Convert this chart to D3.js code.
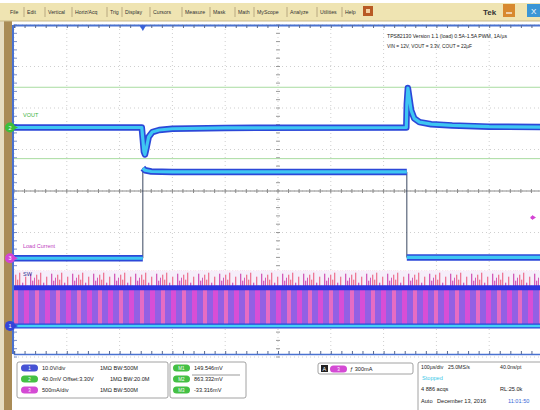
<!DOCTYPE html>
<html>
<head>
<meta charset="utf-8">
<title>Load step</title>
<script src="https://cdn.jsdelivr.net/npm/d3@7/dist/d3.min.js"></script>
<style>
  body { margin: 0; background: #fff; }
  svg { display: block; font-family: "Liberation Sans", Arial, sans-serif; }
</style>
</head>
<body>
<div id="scope"></div>
<script>
// time in us, levels in divisions from screen centre
var voutT = [-500, -258, -256, -254, -252, -249, -245, -238, -225, -200, -100, 243, 244, 246, 248, 252, 258, 268, 290, 330, 400, 500];
var voutV = [1.53, 1.53, 1.25, 0.95, 0.88, 1.05, 1.30, 1.42, 1.47, 1.50, 1.52, 1.53, 2.10, 2.48, 2.30, 1.95, 1.75, 1.66, 1.61, 1.58, 1.55, 1.54];
var ioutT = [-500, -256, -256, -252, -240, -200, 244, 244, 500];
var ioutV = [-1.62, -1.62, 0.55, 0.50, 0.47, 0.46, 0.46, -1.60, -1.60];
var swT = [-500, 500];
var swHigh = [-2.33, -2.33];
var swLow = [-3.25, -3.25];
var swRing = [-1.92, -1.92];
var cursorV = [2.50, 0.78];
var triggerT = -256, triggerLevel = -0.64;
var chanMarks = [{ name: "2", v: 1.53, c: "#3cc03c" }, { name: "3", v: -1.62, c: "#d444d4" }, { name: "1", v: -3.25, c: "#3344d8" }];
var traceLabels = [{ t: "VOUT", v: 1.78, c: "#3cb43c" }, { t: "Load Current", v: -1.38, c: "#c040c0" }, { t: "SW", v: -2.05, c: "#303090" }];
var menuItems = ["File", "Edit", "Vertical", "Horiz/Acq", "Trig", "Display", "Cursors", "Measure", "Mask", "Math", "MyScope", "Analyze", "Utilities", "Help"];
var menuX = [10, 27, 48, 75, 110, 125, 153, 185, 213, 238, 257, 290, 320, 345];
var chanScale = ["10.0V/div", "40.0mV Offset:3.30V", "500mA/div"];
var chanBw = ["1MΩ  BW:500M", "1MΩ  BW:20.0M", "1MΩ  BW:500M"];
var measValues = ["149.546mV", "863.332mV", "-33.316mV"];
var noteLines = ["TPS82130 Version 1.1 (load) 0.5A-1.5A PWM, 1A/µs", "VIN = 12V, VOUT = 3.3V, COUT = 22µF"];

var W = 540, H = 410;
var svg = d3.select("#scope").append("svg").attr("width", W).attr("height", H);

var xs = d3.scaleLinear().domain([-500, 500]).range([14, 542]);
var ys = d3.scaleLinear().domain([-4, 4]).range([357, 25]);

// side strip and menu bar
svg.append("rect").attr("x", 0).attr("y", 0).attr("width", W).attr("height", H).attr("fill", "#fff");
svg.append("rect").attr("x", 0).attr("y", 21).attr("width", 4).attr("height", H - 21).attr("fill", "#e6dcc0");
svg.append("rect").attr("x", 4).attr("y", 21).attr("width", 8).attr("height", H - 21).attr("fill", "#a98b56");
svg.append("rect").attr("x", 0).attr("y", 3).attr("width", W).attr("height", 18).attr("fill", "#efe4b2");
svg.append("line").attr("x1", 0).attr("x2", W).attr("y1", 21).attr("y2", 21).attr("stroke", "#c9b98a");

svg.append("g").selectAll("text").data(menuItems).enter().append("text")
  .attr("x", function (d, i) { return menuX[i]; }).attr("y", 14)
  .attr("font-size", 5.2).attr("fill", "#333").text(function (d) { return d; });
svg.append("g").selectAll("line").data(menuX.slice(1)).enter().append("line")
  .attr("x1", function (d) { return d - 3; }).attr("x2", function (d) { return d - 3; })
  .attr("y1", 7).attr("y2", 17).attr("stroke", "#b8a880");
svg.append("rect").attr("x", 363).attr("y", 6).attr("width", 10).attr("height", 10).attr("fill", "#b85a24");
svg.append("rect").attr("x", 366).attr("y", 9).attr("width", 4).attr("height", 4).attr("fill", "#f3d0a0");
svg.append("text").attr("x", 483).attr("y", 15).attr("font-size", 8).attr("font-weight", "bold").attr("fill", "#333").text("Tek");
svg.append("rect").attr("x", 503).attr("y", 4).attr("width", 12).attr("height", 13).attr("fill", "#d8892f");
svg.append("line").attr("x1", 506).attr("x2", 512).attr("y1", 13).attr("y2", 13).attr("stroke", "#fff").attr("stroke-width", 1.2);
svg.append("rect").attr("x", 527).attr("y", 4).attr("width", 13).attr("height", 13).attr("fill", "#3a96d6");
svg.append("text").attr("x", 531).attr("y", 14).attr("font-size", 8).attr("fill", "#fff").text("X");

// graticule
var grid = svg.append("g");
d3.range(-5, 6).forEach(function (i) {
  grid.append("line").attr("x1", xs(i * 100)).attr("x2", xs(i * 100)).attr("y1", ys(4)).attr("y2", ys(-4))
    .attr("stroke", "#cfcfcf").attr("stroke-dasharray", "1,3");
});
d3.range(-4, 5).forEach(function (j) {
  grid.append("line").attr("x1", xs(-500)).attr("x2", xs(500)).attr("y1", ys(j)).attr("y2", ys(j))
    .attr("stroke", "#cfcfcf").attr("stroke-dasharray", "1,3");
});
grid.append("line").attr("x1", xs(-500)).attr("x2", xs(500)).attr("y1", ys(0)).attr("y2", ys(0)).attr("stroke", "#8a8a8a");
d3.range(-500, 501, 20).forEach(function (t) {
  grid.append("line").attr("x1", xs(t)).attr("x2", xs(t)).attr("y1", ys(0) - 2).attr("y2", ys(0) + 2).attr("stroke", "#8a8a8a");
});
d3.range(-4, 4.01, 0.2).forEach(function (v) {
  grid.append("line").attr("x1", xs(0) - 2).attr("x2", xs(0) + 2).attr("y1", ys(v)).attr("y2", ys(v)).attr("stroke", "#999");
  grid.append("line").attr("x1", xs(-500)).attr("x2", xs(-500) + 3).attr("y1", ys(v)).attr("y2", ys(v)).attr("stroke", "#7a8ec8");
});

// rulers
var xAxisTop = d3.axisBottom(xs).tickValues(d3.range(-500, 501, 20)).tickSize(3).tickFormat("");
var rTop = svg.append("g").attr("transform", "translate(0," + ys(4) + ")").call(xAxisTop);
rTop.select(".domain").attr("stroke", "#4a72d0").attr("stroke-width", 2);
rTop.selectAll(".tick line").attr("stroke", "#5a6a90");
var xAxisBot = d3.axisTop(xs).tickValues(d3.range(-500, 501, 20)).tickSize(3).tickFormat("");
var rBot = svg.append("g").attr("transform", "translate(0," + (ys(-4) - 3) + ")").call(xAxisBot);
rBot.select(".domain").attr("stroke", "#4a72d0").attr("stroke-width", 1.5);
rBot.selectAll(".tick line").attr("stroke", "#5a6a90");
svg.append("line").attr("x1", 13).attr("x2", 13).attr("y1", ys(4)).attr("y2", ys(-4) - 3).attr("stroke", "#4a72d0").attr("stroke-width", 2);

// cursors
svg.append("g").selectAll("line").data(cursorV).enter().append("line")
  .attr("x1", xs(-500)).attr("x2", xs(500)).attr("y1", function (d) { return ys(d); }).attr("y2", function (d) { return ys(d); })
  .attr("stroke", "#a8dca0").attr("stroke-width", 1);

// switch node: striped envelope
var defs = svg.append("defs");
var pSw = defs.append("pattern").attr("id", "swp").attr("patternUnits", "userSpaceOnUse")
  .attr("x", 14).attr("y", 0).attr("width", 21).attr("height", 400);
pSw.append("rect").attr("width", 21).attr("height", 400).attr("fill", "#9360e4");
pSw.append("rect").attr("x", 0).attr("width", 4).attr("height", 400).attr("fill", "#e66cc4");
pSw.append("rect").attr("x", 10).attr("width", 5).attr("height", 400).attr("fill", "#d84ed6");
var pRing = defs.append("pattern").attr("id", "ringp").attr("patternUnits", "userSpaceOnUse")
  .attr("x", 14).attr("y", ys(swRing[0])).attr("width", 21).attr("height", 40);
pRing.append("rect").attr("width", 21).attr("height", 40).attr("fill", "#f6eefa");
[[1, 4], [3, 9], [5, 2], [8, 12], [11, 6], [13, 15], [16, 3], [18, 10], [20, 7]].forEach(function (s) {
  pRing.append("rect").attr("x", s[0]).attr("y", s[1]).attr("width", 1.3).attr("height", 40)
    .attr("fill", s[0] % 2 ? "#ee7896" : "#d35ab8");
});

var area = d3.area().x(function (d, i) { return xs(swT[i]); });
svg.append("path").datum(swT)
  .attr("d", area.y0(function (d, i) { return ys(swHigh[i]); }).y1(function (d, i) { return ys(swRing[i]); }))
  .attr("fill", "url(#ringp)");
svg.append("path").datum(swT)
  .attr("d", area.y0(function (d, i) { return ys(swLow[i]); }).y1(function (d, i) { return ys(swHigh[i]); }))
  .attr("fill", "url(#swp)");

function lineOf(T) {
  return d3.line().x(function (d, i) { return xs(T[i]); }).y(function (d) { return ys(d); });
}
svg.append("path").datum(swHigh).attr("d", lineOf(swT)).attr("fill", "none").attr("stroke", "#2d33e0").attr("stroke-width", 5);
svg.append("path").datum(swLow).attr("d", lineOf(swT)).attr("fill", "none").attr("stroke", "#2d44dc").attr("stroke-width", 5);
svg.append("path").datum(swLow).attr("d", lineOf(swT)).attr("fill", "none").attr("stroke", "#44d0f4").attr("stroke-width", 2.5);

// analog traces: thin connectors, then thick noisy band split at steps
function band(T, V) {
  svg.append("path").datum(V).attr("d", lineOf(T)).attr("fill", "none").attr("stroke", "#3a4660").attr("stroke-width", 1);
  var segs = [], cur = [];
  T.forEach(function (t, i) {
    if (i > 0 && t === T[i - 1]) { segs.push(cur); cur = []; }
    cur.push([t, V[i]]);
  });
  segs.push(cur);
  var ln = d3.line().x(function (d) { return xs(d[0]); }).y(function (d) { return ys(d[1]); });
  segs.forEach(function (s) {
    svg.append("path").datum(s).attr("d", ln).attr("fill", "none").attr("stroke", "#2c48d8").attr("stroke-width", 6.5).attr("stroke-linejoin", "round");
    svg.append("path").datum(s).attr("d", ln).attr("fill", "none").attr("stroke", "#3ec6f2").attr("stroke-width", 3.2).attr("stroke-linejoin", "round");
  });
}
band(ioutT, ioutV);
band(voutT, voutV);

// trace labels
svg.append("g").selectAll("text").data(traceLabels).enter().append("text")
  .attr("x", 23).attr("y", function (d) { return ys(d.v); }).attr("font-size", 5.5)
  .attr("fill", function (d) { return d.c; }).text(function (d) { return d.t; });

// channel markers
var cm = svg.append("g").selectAll("g").data(chanMarks).enter().append("g")
  .attr("transform", function (d) { return "translate(10," + ys(d.v) + ")"; });
cm.append("path").attr("d", "M0,-4 L8,0 L0,4 Z").attr("fill", function (d) { return d.c; });
cm.append("circle").attr("r", 5).attr("fill", function (d) { return d.c; });
cm.append("text").attr("text-anchor", "middle").attr("y", 2).attr("font-size", 5.5).attr("fill", "#fff").text(function (d) { return d.name; });

// trigger markers
svg.append("path").attr("d", "M" + (xs(triggerT) - 3.5) + ",25 L" + (xs(triggerT) + 3.5) + ",25 L" + xs(triggerT) + ",31 Z").attr("fill", "#3a62d8");
svg.append("path").attr("d", "M" + (xs(500) - 6) + "," + ys(triggerLevel) + " l-4,-2.5 v5 Z").attr("fill", "#d444d4");
svg.append("circle").attr("cx", xs(500) - 10).attr("cy", ys(triggerLevel)).attr("r", 1.6).attr("fill", "#d444d4");

// note
svg.append("g").selectAll("text").data(noteLines).enter().append("text")
  .attr("x", 387).attr("y", function (d, i) { return 38 + i * 10; })
  .attr("font-size", 5.2).attr("fill", "#222")
  .attr("textLength", function (d, i) { return i ? 85 : 120; }).attr("lengthAdjust", "spacingAndGlyphs")
  .text(function (d) { return d; });

// bottom panel
function box(x, y, w, h) {
  svg.append("rect").attr("x", x).attr("y", y).attr("width", w).attr("height", h).attr("rx", 2)
    .attr("fill", "#fff").attr("stroke", "#8a8a8a").attr("stroke-width", 0.8);
}
function pill(x, y, c, label) {
  svg.append("rect").attr("x", x).attr("y", y - 5.5).attr("width", 17).attr("height", 7).attr("rx", 3.5).attr("fill", c);
  svg.append("text").attr("x", x + 8.5).attr("y", y).attr("text-anchor", "middle").attr("font-size", 4.5).attr("fill", "#fff").text(label);
}
function txt(x, y, s, c, fs) {
  return svg.append("text").attr("x", x).attr("y", y).attr("font-size", fs || 5.6).attr("fill", c || "#222").text(s);
}
box(17, 362, 151, 36);
var rowY = [370, 381, 392];
var pillC = ["#4652d4", "#44c044", "#d44ad4"];
chanScale.forEach(function (s, i) {
  pill(21, rowY[i], pillC[i], String(i + 1));
  txt(42, rowY[i], s);
  txt(i === 1 ? 110 : 100, rowY[i], chanBw[i]);
});
box(170, 362, 76, 36);
measValues.forEach(function (s, i) {
  pill(173, rowY[i], "#44c044", "M" + (i + 1));
  txt(194, rowY[i], s);
});
svg.append("line").attr("x1", 192).attr("x2", 240).attr("y1", 375).attr("y2", 375).attr("stroke", "#555").attr("stroke-width", 0.6);

box(318, 363, 95, 11);
svg.append("rect").attr("x", 321).attr("y", 365).attr("width", 7).attr("height", 7).attr("fill", "#222");
txt(322.5, 371, "A", "#fff", 5.5);
pill(330, 371, "#d44ad4", "3");
txt(350, 371, "ƒ 300mA");

box(418, 362, 124, 50);
txt(421, 369, "100µs/div", "#222", 5.2);
txt(448, 369, "25.0MS/s", "#222", 5.2);
txt(500, 369, "40.0ns/pt", "#222", 5.2);
txt(422, 380, "Stopped", "#3cc8e8");
txt(421, 391, "4 886 acqs");
txt(500, 391, "RL:25.0k");
txt(421, 403, "Auto");
txt(437, 403, "December 13, 2016");
txt(508, 403, "11:01:50", "#3a6ad8");
</script>
</body>
</html>
